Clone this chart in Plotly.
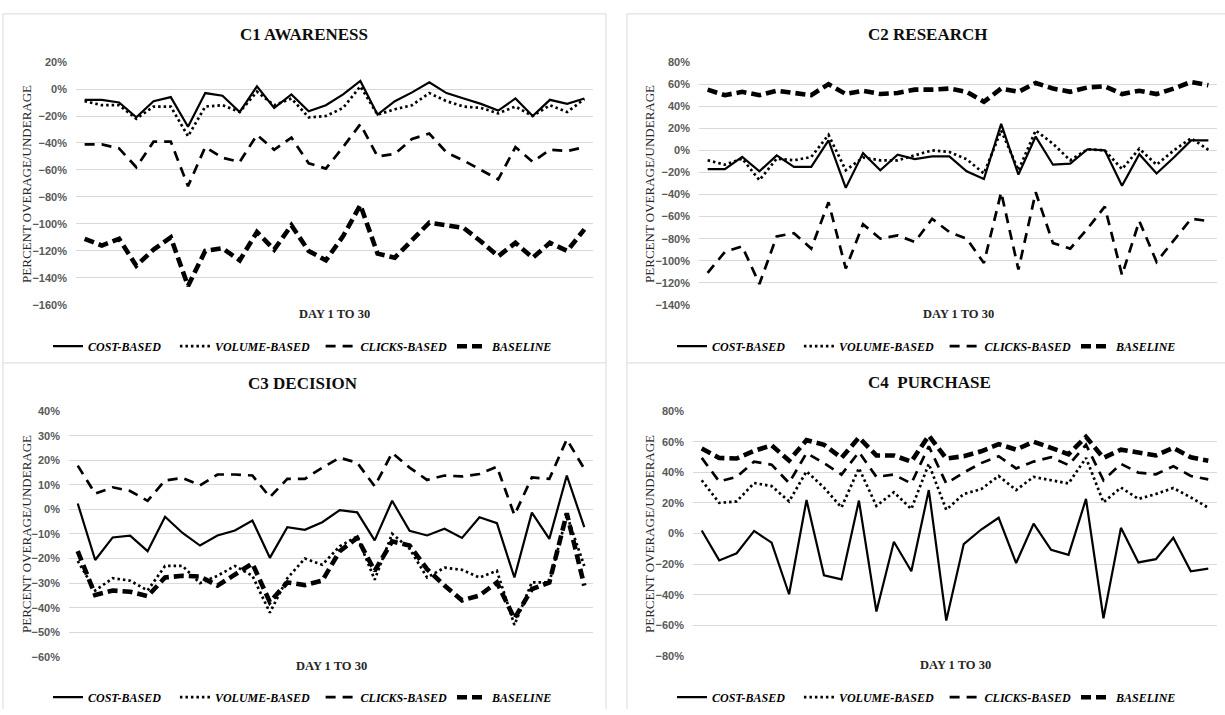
import plotly.graph_objects as go

W, H = 1225, 715

days = list(range(1, 31))

series_names = ["COST-BASED", "VOLUME-BASED", "CLICKS-BASED", "BASELINE"]
panel_titles = ["C1 AWARENESS", "C2 RESEARCH", "C3 DECISION", "C4  PURCHASE"]
y_title = "PERCENT OVERAGE/UNDERAGE"
x_title = "DAY 1 TO 30"

# C1 awareness (percent)
c1_cost = [-8, -8, -10, -21, -9, -6, -28, -3, -5, -17, 2, -14, -4, -16.5, -12,
           -4, 6, -19, -9, -2.5, 5, -3, -7, -11, -16, -7, -20, -8, -11, -7]
c1_volume = [-9, -12, -12, -22, -13, -13, -35, -13, -12, -17, -2, -12, -7, -21, -20,
             -14, 2, -19, -15, -12, -3, -9, -13, -14, -18, -13, -20, -12, -17, -7.5]
c1_clicks = [-41, -41, -44, -58, -39, -39, -72, -43, -51, -54, -34, -45, -36, -55, -59,
             -43, -26, -50, -48, -37, -33, -47, -53, -60, -67, -43, -54, -45, -46, -43]
c1_baseline = [-111, -116, -111, -131, -119, -110, -146, -120, -118, -127, -106, -119, -101, -120, -127,
               -109, -86, -122, -125, -112, -99, -101, -103, -113, -124, -114, -125, -114, -120, -104]

# C2 research (percent)
c2_cost = [-17, -17, -6, -19, -4.5, -15, -15, 9, -34, -2.5, -18, -4, -8, -5.5, -5.5,
           -19, -26, 24, -22, 12.5, -13, -12, 1, 0, -32, -3.5, -21, -6.5, 9, 9]
c2_volume = [-9, -13, -7.5, -27, -7.5, -9, -6, 14, -18, -6.5, -9, -9, -4.5, 0, -1.5,
             -8, -21, 18, -18, 18, 6, -9, 1, 0, -17, 1.5, -13, 0, 11, 0.5]
c2_clicks = [-111, -92, -87, -121, -78, -75, -89, -47, -107, -67, -80, -77, -83, -62, -74,
             -80, -102, -38, -108, -38, -84, -89, -71, -51, -113, -64, -101, -81, -62, -64]
c2_baseline = [55, 50, 53, 50, 54, 52, 50, 60, 51, 54, 51, 52, 55, 55, 56,
               53, 44, 56, 53, 61, 56, 53, 57, 58, 51, 54, 51, 56, 62, 59]

# C3 decision (percent)
c3_cost = [2.4, -20.6, -11.4, -10.7, -17, -3, -9.6, -14.7, -10.6, -8.6, -4.5, -19.7, -7.2, -8.3, -5.2,
           -0.3, -1.2, -12.6, 3.5, -8.7, -10.6, -7.9, -11.6, -3.2, -5.6, -27.7, -1.3, -12, 13.8, -7.2]
c3_volume = [-21, -33, -28, -29, -33, -23, -23, -30, -27, -23, -27, -42, -28, -20, -22.5,
             -15, -11, -28.6, -9.9, -16, -27.7, -23.7, -24.6, -27.7, -25, -47, -29.7, -29.7, -2.3, -23]
c3_clicks = [17.8, 6.4, 9, 7.5, 3.5, 11.8, 12.8, 9.8, 14.2, 14.2, 13.8, 5, 12.4, 12.4, 17,
             21, 19, 9.4, 23, 17, 12, 13.8, 13.4, 14.4, 17.4, -2.3, 13, 12.4, 28.5, 16.5]
c3_baseline = [-17, -34.8, -33, -33.5, -35.3, -27.7, -27, -27.3, -31, -26.3, -22, -37.7, -29.7, -30.8, -29,
               -17, -11.6, -25, -13, -14.7, -24.3, -31, -37, -35, -29.7, -44.4, -32.4, -29.7, -1.6, -31]

# C4 purchase (percent)
c4_cost = [2, -17.6, -12.9, 1.7, -6, -39.7, 21.9, -27.3, -30, 21.5, -51, -5.4, -24.7, 28.4, -56.9,
           -6.9, 2.6, 10.3, -19.3, 6.4, -10.7, -14, 22.6, -55.4, 3.7, -18.9, -16.8, -2.8, -24.7, -23]
c4_volume = [34.8, 20, 21, 33, 31, 21, 40.6, 30, 17, 42.7, 18, 27, 16, 45.5, 15.5,
             25.8, 29, 37.6, 28.4, 37, 34.8, 32.7, 49.4, 20.4, 30, 22.6, 25.8, 29.7, 23.6, 16.8]
c4_clicks = [49.4, 34, 37, 47, 45, 33, 52.6, 46, 38.5, 53.2, 37, 38.5, 32.7, 57, 32.7,
             39.8, 46, 50.5, 42.5, 47, 49.8, 44.7, 58, 34.8, 45.5, 39.8, 38.7, 44, 37.6, 35.4]
c4_baseline = [55.5, 49.4, 49, 54, 57.6, 47.7, 61, 58, 49.4, 62.7, 51, 51, 47, 64, 49,
               50.5, 53.7, 58.4, 54.8, 60, 56, 51.8, 63.2, 49.4, 54.8, 52.6, 51, 56, 49.8, 47.6]

y_ranges = [(-160, 20, 20), (-140, 80, 20), (-60, 40, 10), (-80, 80, 20)]

panel_data = [
    [c1_cost, c1_volume, c1_clicks, c1_baseline],
    [c2_cost, c2_volume, c2_clicks, c2_baseline],
    [c3_cost, c3_volume, c3_clicks, c3_baseline],
    [c4_cost, c4_volume, c4_clicks, c4_baseline],
]

line_styles = [
    dict(color="black", width=2.2, dash="solid"),
    dict(color="black", width=2.7, dash="2.5px,3px"),
    dict(color="black", width=2.7, dash="10px,7px"),
    dict(color="black", width=4.6, dash="10px,5px"),
]

# extra room after each legend label, in non-breaking spaces
legend_pad = [3, 2, 0, 0]

# pixel boxes of each plot area: left, right, top, bottom
plot_boxes = [
    (76, 593, 57, 304),
    (699, 1217, 57, 304),
    (69, 593, 412, 662),
    (693, 1217, 412, 661),
]
# thin panel separators as (x0, y0, x1, y1) pixel segments
frame_segments = [
    (3, 8, 606, 8), (3, 8, 3, 715), (606, 8, 606, 715),
    (627, 8, 1225, 8), (627, 8, 627, 715),
    (3, 363, 606, 363), (627, 363, 1225, 363),
]
title_pos = [(304, 29), (928, 29), (303, 384), (929, 383)]
ytitle_pos = [(27, 181), (650, 181), (27, 537), (650, 537)]
legend_pos = [(48, 346), (672, 346), (48, 703), (672, 703)]


def px(x):
    return x / W


def py(y):
    return 1 - y / H


SERIF = "Liberation Serif, Times New Roman, serif"
SANS = "Liberation Sans, Arial, sans-serif"

fig = go.Figure()
layout = dict(
    width=W, height=H,
    margin=dict(l=0, r=0, t=0, b=0),
    paper_bgcolor="white", plot_bgcolor="white",
    showlegend=True,
    shapes=[], annotations=[],
)

for x0, y0, x1, y1 in frame_segments:
    layout["shapes"].append(dict(
        type="line", xref="paper", yref="paper",
        x0=px(x0), x1=px(x1), y0=py(y0), y1=py(y1),
        line=dict(color="#d9d9d9", width=1), layer="below",
    ))

for p in range(4):
    sfx = "" if p == 0 else str(p + 1)
    legend_id = "legend" + sfx
    for s in range(4):
        fig.add_trace(go.Scatter(
            x=days, y=panel_data[p][s], mode="lines",
            name=series_names[s] + "\u00a0" * legend_pad[s], line=line_styles[s],
            xaxis="x" + sfx, yaxis="y" + sfx, legend=legend_id,
            hoverinfo="skip",
        ))

    l, r, t, b = plot_boxes[p]
    lo, hi, step = y_ranges[p]
    layout["xaxis" + sfx] = dict(
        domain=[px(l), px(r)], range=[0.5, 30.5], anchor="y" + sfx,
        showgrid=False, zeroline=False, showticklabels=False, showline=False, ticks="",
    )
    layout["yaxis" + sfx] = dict(
        domain=[py(b), py(t)], range=[lo, hi], anchor="x" + sfx,
        tickmode="linear", tick0=lo, dtick=step, ticksuffix="%",
        showgrid=True, gridcolor="#d9d9d9", gridwidth=1,
        zeroline=False, showline=False, ticks="",
        ticklabelstandoff=8,
        tickfont=dict(family=SANS, size=11, color="#595959", weight="bold"),
    )

    lx, ly = legend_pos[p]
    layout[legend_id] = dict(
        orientation="h", x=px(lx), y=py(ly), xanchor="left", yanchor="middle",
        bgcolor="rgba(0,0,0,0)", itemwidth=30, tracegroupgap=0,
        font=dict(family=SERIF, size=12, color="black", weight="bold", style="italic"),
    )

    tx, ty = title_pos[p]
    layout["annotations"].append(dict(
        text=panel_titles[p], x=px(tx), y=py(ty), xref="paper", yref="paper",
        xanchor="center", yanchor="middle", showarrow=False,
        font=dict(family=SERIF, size=17, color="#0d0d0d", weight="bold"),
    ))
    yx, yy = ytitle_pos[p]
    layout["annotations"].append(dict(
        text=y_title, x=px(yx), y=py(yy), xref="paper", yref="paper",
        xanchor="center", yanchor="middle", showarrow=False, textangle=-90,
        font=dict(family=SERIF, size=13, color="#262626"),
    ))
    layout["annotations"].append(dict(
        text=x_title, x=px((l + r) / 2), y=py(b + 9), xref="paper", yref="paper",
        xanchor="center", yanchor="middle", showarrow=False,
        font=dict(family=SERIF, size=12.5, color="#262626", weight="bold"),
    ))

fig.update_layout(**layout)
fig.write_html("out.html")
